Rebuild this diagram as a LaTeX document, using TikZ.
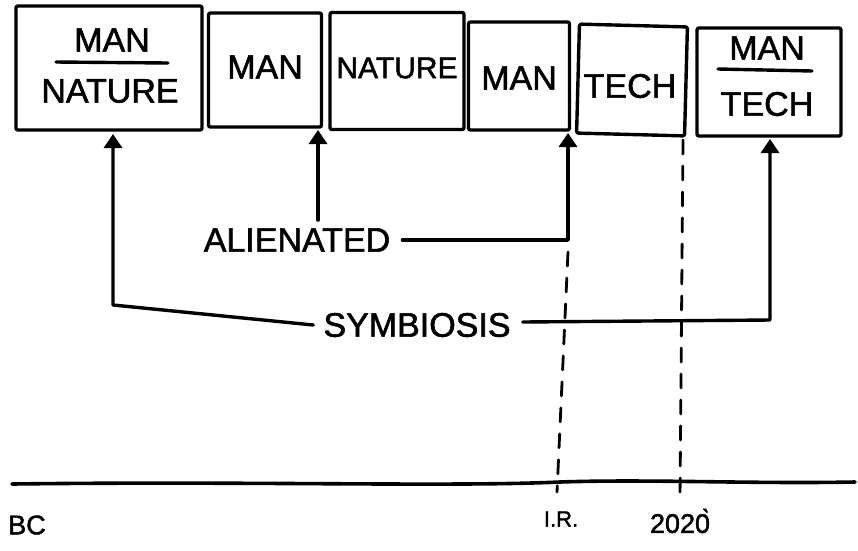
\documentclass[tikz,border=0pt]{standalone}
\usepackage{fontspec}
\setmainfont{Liberation Sans}
\newfontfamily\handfont{Liberation Sans}[FakeBold=1.6]
\usetikzlibrary{arrows.meta,calc}
\begin{document}
\begin{tikzpicture}[x=1pt,y=-1pt,
  line cap=round, line join=round,
  ink/.style={line width=3.4pt},
  boxnode/.style={draw, ink, rounded corners=2pt, inner sep=0pt},
  txt/.style={font=\handfont\fontsize{34}{36}\selectfont, inner sep=0pt},
  smalltxt/.style={font=\handfont\fontsize{30}{32}\selectfont, inner sep=0pt},
  axtxt/.style={font=\handfont\fontsize{27}{29}\selectfont, inner sep=0pt},
  arr/.style={ink, -{Triangle[length=14pt,width=18pt]}},
  dashline/.style={line width=2.8pt, dash pattern=on 14pt off 12pt}]
\useasboundingbox (0,0) rectangle (858,550);
% boxes
\node[boxnode, minimum width=186pt, minimum height=124pt] (b1) at (109,68) {};
\node[boxnode, minimum width=113pt, minimum height=114pt] (b2) at (265,70) {};
\node[boxnode, minimum width=134pt, minimum height=117pt] (b3) at (397,71) {};
\node[boxnode, minimum width=101pt, minimum height=108pt] (b4) at (519,76) {};
\node[boxnode, minimum width=108pt, minimum height=109pt, rotate=-1.5] (b5) at (632,80) {};
\node[boxnode, minimum width=144pt, minimum height=108pt] (b6) at (769,82) {};
% box texts
\node[txt] (t1a) at (112,40) {MAN};
\node[txt] (t1b) at (110,91) {NATURE};
\draw[ink] (56,62) -- (168,63);
\node[txt] (t2) at (265,67) {MAN};
\node[smalltxt] (t3) at (397,68) {NATURE};
\node[txt] (t4) at (519,78) {MAN};
\node[txt] (t5) at (630,86) {TECH};
\node[txt] (t6a) at (767,48) {MAN};
\node[txt] (t6b) at (767,104) {TECH};
\draw[ink] (718,69) -- (812,71);
% labels
\node[txt] (alien) at (297,240) {ALIENATED};
\node[txt] (symb) at (417,325) {SYMBIOSIS};
% arrow targets
\coordinate (a1) at (113,134);
\coordinate (a2) at (318,130);
\coordinate (a3) at (568,133);
\coordinate (a4) at (770,139);
\draw[arr] ([xshift=-10pt]symb.west) -- (113,305) -- (a1);
\draw[arr] (a2 |- alien.north) ++(0,-8) -- (a2);
\draw[arr] ([xshift=12pt]alien.east) -- (a3 |- alien.east) -- (a3);
\draw[arr] ([xshift=12pt,yshift=3pt]symb.east) -- (770,320) -- (a4);
% timeline
\coordinate (l0) at (12,484);
\coordinate (l1) at (855,482);
\draw[line width=3.6pt] (l0) .. controls (250,481) and (450,487) .. (560,482) .. controls (650,479) and (750,484) .. (l1);
\coordinate (ir) at (557,492);
\coordinate (yr) at (680,498);
\draw[dashline] (a3 |- alien.east) ++(0,12) -- (ir);
\draw[dashline] (683,140) -- (yr);
% axis labels
\node[axtxt] (bc) at (27,525) {BC};
\node[axtxt, font=\handfont\fontsize{22}{24}\selectfont] (irl) at (561,519) {I.R.};
\node[axtxt] (y2020) at (680,521) {202\`{0}};
\end{tikzpicture}
\end{document}
